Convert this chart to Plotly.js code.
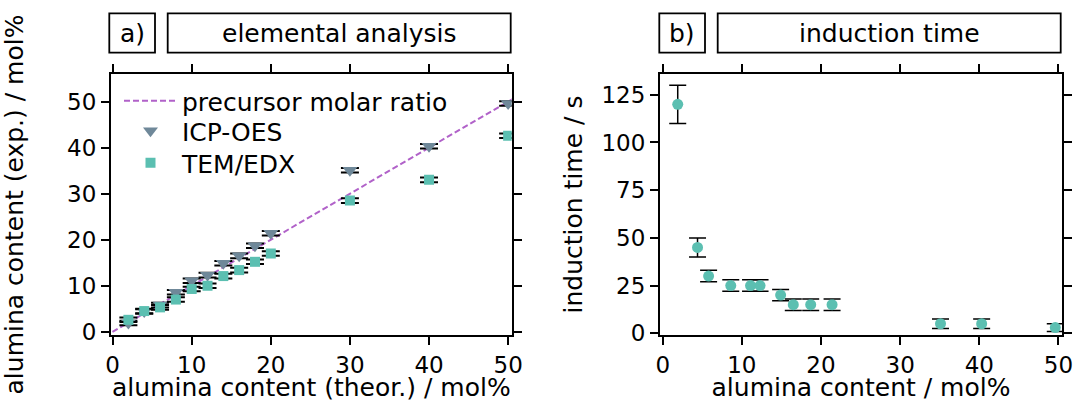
<!DOCTYPE html>
<html>
<head>
<meta charset="utf-8">
<script src="https://cdn.plot.ly/plotly-3.0.1.min.js"></script>
<style>html,body{margin:0;padding:0;background:#fff;}#chart{width:1074px;height:402px;}</style>
</head>
<body>
<div id="chart"></div>
<script>
// ---- data ----
const theorContent = [2, 4, 6, 8, 10, 12, 14, 16, 18, 20, 30, 40, 50];
const icpOes = [1.9, 4.4, 5.8, 8.6, 11.1, 12.3, 14.9, 16.5, 18.7, 21.4, 35.1, 40.3, 49.6];
const icpOesErr = [0.5, 0.5, 0.5, 0.5, 0.5, 0.5, 0.5, 0.5, 0.5, 0.5, 0.5, 0.5, 0.5];
const temEdx = [2.6, 4.5, 5.3, 7.0, 9.3, 10.0, 12.1, 13.4, 15.2, 17.0, 28.5, 33.0, 42.6];
const temEdxErr = [0.5, 0.5, 0.5, 0.5, 0.5, 0.5, 0.5, 0.5, 0.5, 0.5, 0.5, 0.5, 0.5];
const ratioX = [-1, 51];
const ratioY = [-1, 51];
const inductionX = icpOes;
const inductionTime = [120, 45, 30, 25, 25, 25, 20, 15, 15, 15, 5, 5, 3];
const inductionErr = [10, 5, 3, 3, 3, 3, 3, 3, 3, 3, 2.5, 2.5, 2];
const xTicksA = [0, 10, 20, 30, 40, 50];
const yTicksA = [0, 10, 20, 30, 40, 50];
const yTicksB = [0, 25, 50, 75, 100, 125];

// ---- geometry helpers (pixel -> paper) ----
const W = 1074, H = 402;
const M = {l: 111, r: 12, t: 74, b: 67};
const PW = W - M.l - M.r, PH = H - M.t - M.b;
const px = x => (x - M.l) / PW;
const py = y => (H - M.b - y) / PH;

const teal = '#5bbfb1', slate = '#6f8899', purple = '#b162c9';
const FONT = 'DejaVu Sans';

const traces = [
  {x: ratioX, y: ratioY, mode: 'lines', name: 'precursor molar ratio', legend: 'legend',
   line: {color: purple, width: 2, dash: '6px,3px'}, xaxis: 'x', yaxis: 'y'},
  {x: theorContent, y: icpOes, mode: 'markers', name: 'ICP-OES', legend: 'legend2',
   marker: {symbol: 'triangle-down', size: 13, color: slate},
   error_y: {type: 'data', array: icpOesErr, visible: true, color: '#000', thickness: 2, width: 9},
   xaxis: 'x', yaxis: 'y'},
  {x: theorContent, y: temEdx, mode: 'markers', name: 'TEM/EDX', legend: 'legend3',
   marker: {symbol: 'square', size: 10, color: teal},
   error_y: {type: 'data', array: temEdxErr, visible: true, color: '#000', thickness: 2, width: 9},
   xaxis: 'x', yaxis: 'y'},
  {x: inductionX, y: inductionTime, mode: 'markers', name: 'induction time', showlegend: false,
   marker: {symbol: 'circle', size: 11, color: teal},
   error_y: {type: 'data', array: inductionErr, visible: true, color: '#000', thickness: 1.5, width: 8.5},
   xaxis: 'x2', yaxis: 'y2'}
];

const axisCommon = {
  showline: true, linecolor: '#000', linewidth: 2, mirror: 'ticks',
  ticks: 'outside', ticklen: 8, tickwidth: 2, tickcolor: '#000',
  showgrid: false, zeroline: false,
  tickfont: {family: FONT, size: 23, color: '#000'},
  tickmode: 'array'
};

function box(x0, x1) {
  return {type: 'rect', xref: 'paper', yref: 'paper', x0: px(x0), x1: px(x1), y0: py(52.7), y1: py(13.3),
          line: {color: '#000', width: 1.8}, fillcolor: 'rgba(0,0,0,0)'};
}
function label(text, x0, x1) {
  return {text: text, xref: 'paper', yref: 'paper', x: px((x0 + x1) / 2), y: py(33), showarrow: false,
          xanchor: 'center', yanchor: 'middle', font: {family: FONT, size: 25, color: '#000'}};
}
function legendAt(yPx) {
  return {x: px(119), y: py(yPx), xanchor: 'left', yanchor: 'middle', bgcolor: 'rgba(0,0,0,0)',
          font: {family: FONT, size: 25, color: '#000'}, itemwidth: 53};
}

const layout = {
  width: W, height: H, margin: {l: M.l, r: M.r, t: M.t, b: M.b, pad: 0},
  paper_bgcolor: '#fff', plot_bgcolor: '#fff',
  font: {family: FONT, color: '#000'},
  showlegend: true,
  legend: legendAt(101),
  legend2: legendAt(131),
  legend3: legendAt(163),
  xaxis: Object.assign({}, axisCommon, {domain: [0, px(511.7)], range: [-0.2, 50.45], tickvals: xTicksA,
           title: {text: 'alumina content (theor.) / mol%', font: {family: FONT, size: 25, color: '#000'}, standoff: 8},
           anchor: 'y'}),
  yaxis: Object.assign({}, axisCommon, {domain: [0, 1], range: [-0.7, 56], tickvals: yTicksA,
           title: {text: 'alumina content (exp.) / mol%', font: {family: FONT, size: 25, color: '#000'}, standoff: 36},
           anchor: 'x'}),
  xaxis2: Object.assign({}, axisCommon, {domain: [px(660), 1], range: [-0.34, 50.45], tickvals: xTicksA,
           title: {text: 'alumina content / mol%', font: {family: FONT, size: 25, color: '#000'}, standoff: 8},
           anchor: 'y2'}),
  yaxis2: Object.assign({}, axisCommon, {domain: [0, 1], range: [-0.9, 135.9], tickvals: yTicksB,
           title: {text: 'induction time / s', font: {family: FONT, size: 25, color: '#000'}, standoff: 12},
           anchor: 'x2'}),
  shapes: [box(109.3, 155), box(167.7, 510.7), box(659.3, 705), box(717.7, 1060.7)],
  annotations: [label('a)', 109.3, 155), label('elemental analysis', 167.7, 510.7),
                label('b)', 659.3, 705), label('induction time', 717.7, 1060.7)]
};

Plotly.newPlot('chart', traces, layout, {staticPlot: true, displayModeBar: false});
</script>
</body>
</html>
